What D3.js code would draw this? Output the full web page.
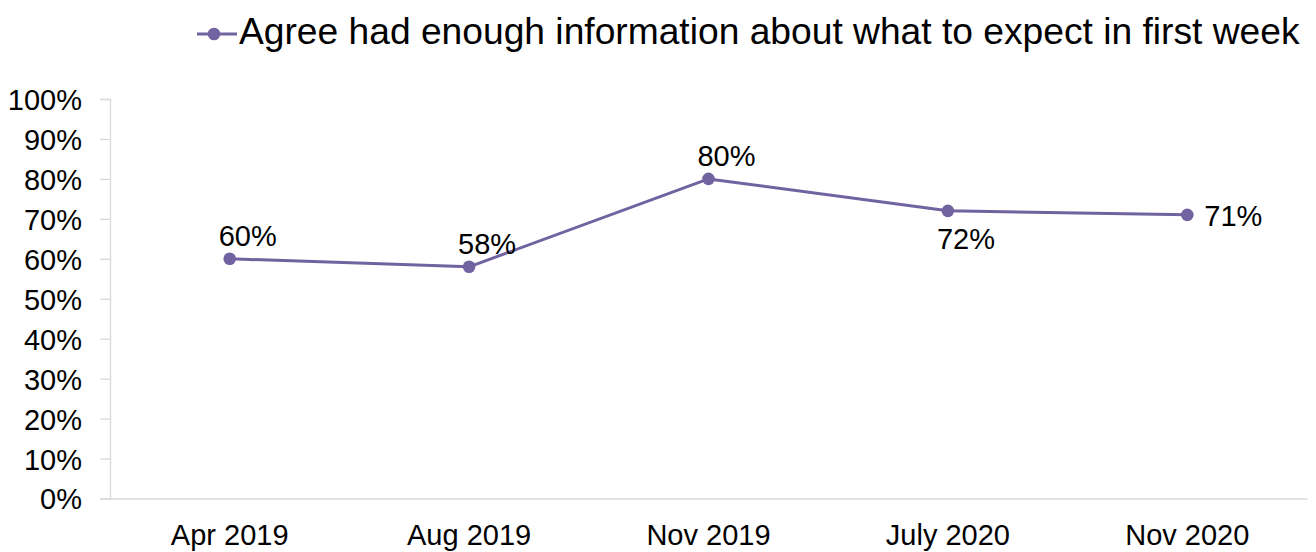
<!DOCTYPE html>
<html>
<head>
<meta charset="utf-8">
<script src="https://cdn.jsdelivr.net/npm/d3@7"></script>
<style>
  html, body { margin: 0; padding: 0; background: #fff; }
  svg { display: block; font-family: "Liberation Sans", Arial, sans-serif; }
</style>
</head>
<body>
<svg id="chart" width="1316" height="552"></svg>
<script>
// Survey waves and share who agreed
const categories = ["Apr 2019", "Aug 2019", "Nov 2019", "July 2020", "Nov 2020"];
const agreeValues = [60, 58, 80, 72, 71];
const labelSides = ["above", "above", "above", "below", "right"];
const yTicks = [0, 10, 20, 30, 40, 50, 60, 70, 80, 90, 100];
const seriesName = "Agree had enough information about what to expect in first week";

const color = "#7163a0";
const axisColor = "#d9d9d9";

const svg = d3.select("#chart");
const plot = { left: 110, right: 1307, top: 99, bottom: 498.5 };

const x = d3.scaleBand().domain(categories).range([plot.left, plot.right]);
const y = d3.scaleLinear().domain([0, 100]).range([plot.bottom, plot.top]);

// Y axis
const yAxis = d3.axisLeft(y).tickValues(yTicks).tickSize(10).tickPadding(18)
  .tickFormat(d => d + "%");
const gy = svg.append("g").attr("transform", `translate(${plot.left},0)`).call(yAxis);
gy.select(".domain").attr("stroke", axisColor).attr("stroke-width", 1.3);
gy.selectAll(".tick line").attr("stroke", axisColor).attr("stroke-width", 1.3);
gy.selectAll(".tick text").attr("fill", "#000").style("font-size", "29px")
  .attr("font-family", "Liberation Sans, Arial, sans-serif").attr("dy", "0.36em");

// X axis (baseline only, no tick marks)
const xAxis = d3.axisBottom(x).tickSize(0).tickPadding(26);
const gx = svg.append("g").attr("transform", `translate(0,${plot.bottom})`).call(xAxis);
gx.select(".domain").attr("stroke", axisColor).attr("stroke-width", 1.3);
gx.selectAll(".tick text").attr("fill", "#000").style("font-size", "29px")
  .attr("font-family", "Liberation Sans, Arial, sans-serif").attr("dy", "0.71em");

// Series line and markers
const pts = categories.map((c, i) => ({ c, v: agreeValues[i], side: labelSides[i] }));
const cx = d => x(d.c) + x.bandwidth() / 2;

svg.append("path")
  .datum(pts)
  .attr("fill", "none")
  .attr("stroke", color)
  .attr("stroke-width", 3)
  .attr("stroke-linejoin", "round")
  .attr("d", d3.line().x(cx).y(d => y(d.v)));

svg.append("g").selectAll("circle").data(pts).join("circle")
  .attr("cx", cx).attr("cy", d => y(d.v)).attr("r", 6.3)
  .attr("fill", color);

// Value labels
svg.append("g").selectAll("text").data(pts).join("text")
  .attr("x", d => d.side === "right" ? cx(d) + 17 : cx(d) + 18)
  .attr("y", d => d.side === "above" ? y(d.v) - 13 : d.side === "below" ? y(d.v) + 38 : y(d.v) + 11)
  .attr("text-anchor", d => d.side === "right" ? "start" : "middle")
  .style("font-size", "29px")
  .attr("fill", "#000")
  .text(d => d.v + "%");

// Legend
const lg = svg.append("g");
lg.append("line").attr("x1", 197).attr("x2", 237).attr("y1", 34).attr("y2", 34)
  .attr("stroke", color).attr("stroke-width", 3);
lg.append("circle").attr("cx", 214).attr("cy", 34).attr("r", 6.3).attr("fill", color);
lg.append("text").attr("x", 239).attr("y", 44).style("font-size", "37.2px")
  .attr("fill", "#000").text(seriesName);
</script>
</body>
</html>
